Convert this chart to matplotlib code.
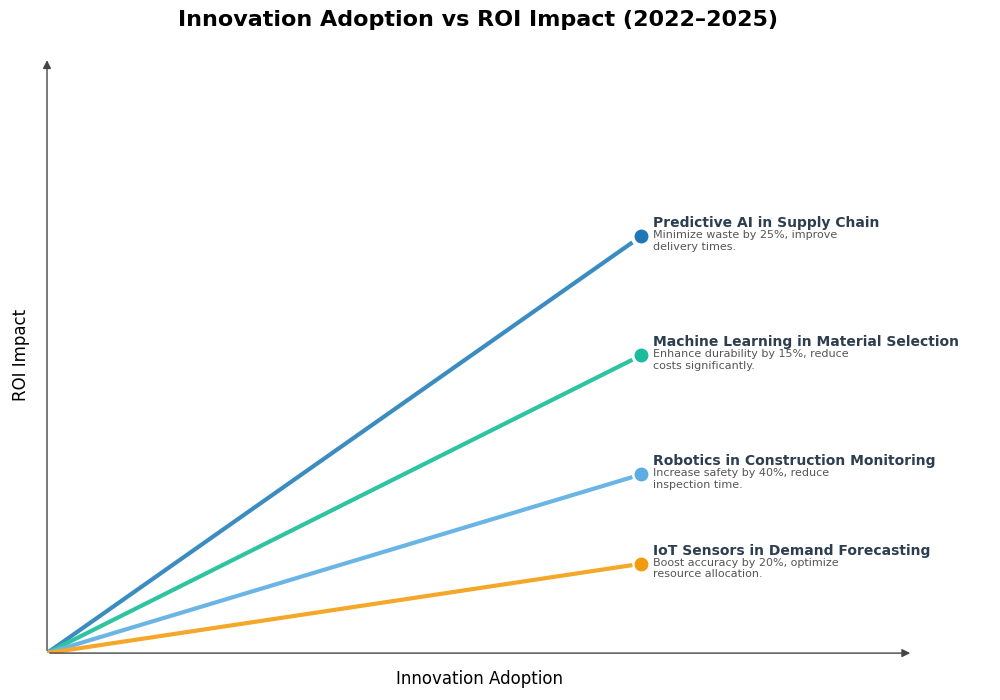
import matplotlib
matplotlib.use("Agg")
import matplotlib.pyplot as plt

titles = ["Predictive AI in Supply Chain", "Machine Learning in Material Selection",
          "Robotics in Construction Monitoring", "IoT Sensors in Demand Forecasting"]
descs = ["Minimize waste by 25%, improve\ndelivery times.",
         "Enhance durability by 15%, reduce\ncosts significantly.",
         "Increase safety by 40%, reduce\ninspection time.",
         "Boost accuracy by 20%, optimize\nresource allocation."]
adoption = [7, 7, 7, 7]
roi = [7, 5, 3, 1.5]
line_colors = ["#3a8cc1", "#2ec4a0", "#6bb5e6", "#f5a72a"]
dot_colors = ["#1f78b4", "#1abc9c", "#5dade2", "#f39c12"]

fig = plt.figure(figsize=(10, 7), dpi=100)
ax = fig.add_axes([0.047, 0.067, 0.866, 0.851])
ax.set_xlim(0, 10.2)
ax.set_ylim(0, 10)
for x, y, lc, dc, t, d in zip(adoption, roi, line_colors, dot_colors, titles, descs):
    f = 0.985
    ax.plot([0, x * f], [0, y * f], color=lc, lw=3, solid_capstyle='butt')
    ax.plot(x, y, 'o', color=dc, ms=9, zorder=5)
    ax.text(x + 0.14, y + 0.1, t, fontsize=10, fontweight='bold', color='#2c3e50', va='bottom')
    ax.text(x + 0.14, y + 0.1, d, fontsize=8, color='#555555', va='top', linespacing=1.2)

for s in ['top', 'right']:
    ax.spines[s].set_visible(False)
ax.set_xticks([]); ax.set_yticks([])
ax.annotate('', xy=(1.0, 0), xycoords='axes fraction', xytext=(0, 0),
            arrowprops=dict(arrowstyle='-|>', color='#444444', lw=1, mutation_scale=12))
ax.annotate('', xy=(0, 1.0), xycoords='axes fraction', xytext=(0, 0),
            arrowprops=dict(arrowstyle='-|>', color='#444444', lw=1, mutation_scale=12))
ax.spines['left'].set_visible(False); ax.spines['bottom'].set_visible(False)
ax.set_xlabel("Innovation Adoption", fontsize=12, labelpad=12)
ax.set_ylabel("ROI Impact", fontsize=12, labelpad=12)
fig.suptitle("Innovation Adoption vs ROI Impact (2022–2025)", fontsize=16, fontweight='bold', x=0.478, y=0.985)
fig.savefig("out.png")
